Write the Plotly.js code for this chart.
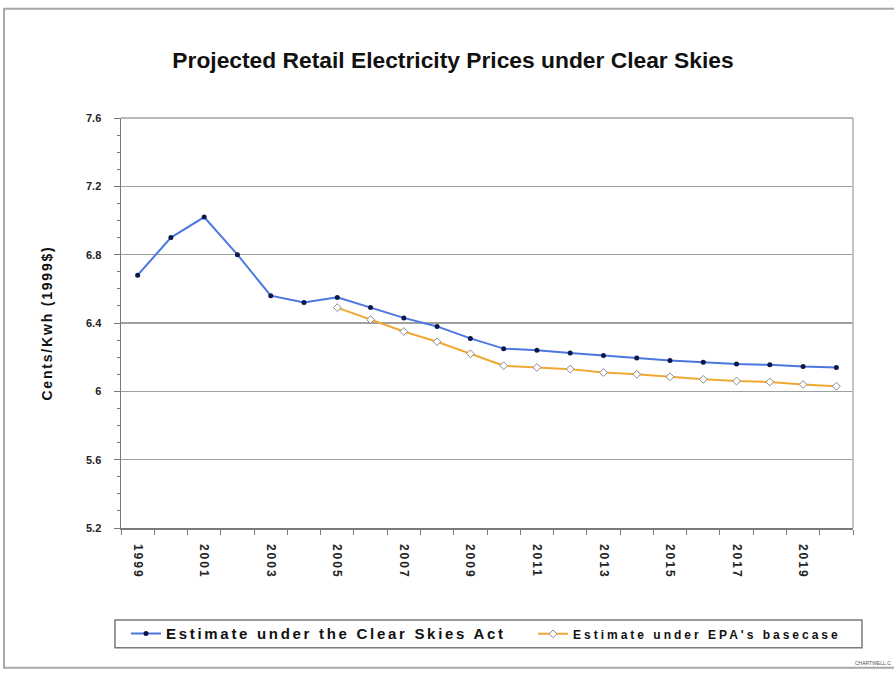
<!DOCTYPE html>
<html>
<head>
<meta charset="utf-8">
<script src="https://cdn.plot.ly/plotly-3.0.1.min.js"></script>
<style>
  html, body { margin: 0; padding: 0; background: #ffffff; }
  #chart { width: 894px; height: 675px; }
</style>
</head>
<body>
<div id="chart"></div>
<script>
// ---- data ----
var years = [1999, 2000, 2001, 2002, 2003, 2004, 2005, 2006, 2007, 2008, 2009,
             2010, 2011, 2012, 2013, 2014, 2015, 2016, 2017, 2018, 2019, 2020];
var clearSkies = [6.68, 6.90, 7.02, 6.80, 6.56, 6.52, 6.55, 6.49, 6.43, 6.38, 6.31,
                  6.25, 6.24, 6.225, 6.21, 6.195, 6.18, 6.17, 6.16, 6.155, 6.145, 6.14];
var basecase = [null, null, null, null, null, null, 6.49, 6.42, 6.35, 6.29, 6.22,
                6.15, 6.14, 6.13, 6.11, 6.10, 6.085, 6.07, 6.06, 6.055, 6.04, 6.03];
var xTickLabels = ["1999", "2001", "2003", "2005", "2007", "2009", "2011", "2013", "2015", "2017", "2019"];
var xTickVals = [1999, 2001, 2003, 2005, 2007, 2009, 2011, 2013, 2015, 2017, 2019];
var seriesNames = ["Estimate under the Clear Skies Act", "Estimate under EPA's basecase"];
var chartTitle = "Projected Retail Electricity Prices under Clear Skies";
var yTitle = "Cents/Kwh (1999$)";

// ---- layout helpers (pixel -> paper) ----
var L = 121, R = 853, T = 117.5, B = 528;
var W = R - L, H = B - T;
function px(x) { return (x - L) / W; }
function py(y) { return (B - y) / H; }
function spaced(t, ls) { return '<span style="letter-spacing:' + ls + 'px">' + t + '</span>'; }

var FONT = 'Liberation Sans, Arial, sans-serif';

var traces = [
  {
    x: years, y: clearSkies, name: spaced(seriesNames[0], 2.7), type: 'scatter', mode: 'lines+markers',
    line: { color: '#4a78e0', width: 2 },
    marker: { symbol: 'circle', size: 5, color: '#0c1848' },
    legend: 'legend'
  },
  {
    x: years, y: basecase, name: spaced(seriesNames[1], 3), type: 'scatter', mode: 'lines+markers',
    connectgaps: false,
    line: { color: '#f0a832', width: 2 },
    marker: { symbol: 'diamond', size: 6, color: '#ffffff', line: { color: '#8a8a8a', width: 1 } },
    legend: 'legend2'
  }
];

var layout = {
  width: 894, height: 675,
  paper_bgcolor: '#ffffff', plot_bgcolor: '#ffffff',
  margin: { l: L, r: 894 - R, t: T, b: 675 - B },
  font: { family: FONT, color: '#222222' },
  title: {
    text: '<b>' + chartTitle + '</b>',
    font: { size: 22.8, color: '#111111', family: FONT },
    x: 453 / 894, xref: 'container', xanchor: 'center',
    y: 1 - 60 / 675, yref: 'container', yanchor: 'middle'
  },
  showlegend: true,
  legend: {
    orientation: 'h', x: px(126), y: py(634), xanchor: 'left', yanchor: 'middle',
    bgcolor: 'rgba(0,0,0,0)', borderwidth: 0,
    font: { size: 15, color: '#111111', family: FONT, weight: 'bold' }
  },
  legend2: {
    orientation: 'h', x: px(533), y: py(634), xanchor: 'left', yanchor: 'middle',
    bgcolor: 'rgba(0,0,0,0)', borderwidth: 0,
    font: { size: 12, color: '#111111', family: FONT, weight: 'bold' }
  },
  xaxis: {
    type: 'linear', range: [1998.5, 2020.5],
    tickmode: 'array', tickvals: xTickVals, ticktext: xTickLabels.map(function (t) { return spaced(t, 2); }),
    tickangle: 90, ticks: '', ticklabelstandoff: 12,
    tickfont: { size: 12, color: '#222222', family: FONT, weight: 'bold' },
    showgrid: false, zeroline: false,
    showline: true, linecolor: '#7a7a7a', linewidth: 1.5,
    minor: { tick0: 1998.5, dtick: 1, ticks: 'outside', ticklen: 5, tickcolor: '#7a7a7a', tickwidth: 1, showgrid: false }
  },
  yaxis: {
    range: [5.2, 7.6], tick0: 5.2, dtick: 0.4,
    ticks: 'outside', ticklen: 6, tickcolor: '#7a7a7a', tickwidth: 1,
    ticklabelstandoff: 10,
    tickfont: { size: 11, color: '#222222', family: FONT, weight: 'bold' },
    showgrid: true, gridcolor: '#a0a0a0', gridwidth: 1.5,
    zeroline: false, showline: true, linecolor: '#7a7a7a', linewidth: 1.5,
    minor: { dtick: 0.1, ticks: 'outside', ticklen: 3, tickcolor: '#7a7a7a', tickwidth: 1, showgrid: false },
    title: {
      text: spaced('<b>' + yTitle + '</b>', 1.8),
      font: { size: 14, color: '#111111', family: FONT },
      standoff: 30
    },
    automargin: false
  },
  shapes: [
    { type: 'rect', xref: 'paper', yref: 'paper', x0: px(4), x1: px(905), y0: py(668), y1: py(8),
      line: { color: '#a8a8a8', width: 2 }, fillcolor: 'rgba(0,0,0,0)', layer: 'below' },
    { type: 'line', xref: 'paper', yref: 'paper', x0: 1, x1: 1, y0: 0, y1: 1,
      line: { color: '#b0b0b0', width: 1.5 } },
    { type: 'line', xref: 'paper', yref: 'paper', x0: 0, x1: 1, y0: 1, y1: 1,
      line: { color: '#a0a0a0', width: 1.5 } },
    { type: 'rect', xref: 'paper', yref: 'paper', x0: px(115), x1: px(862), y0: py(648), y1: py(620),
      line: { color: '#7a7a7a', width: 1.5 }, fillcolor: 'rgba(0,0,0,0)' }
  ],
  annotations: [
    { text: 'CHARTWELL.C', xref: 'paper', yref: 'paper', x: px(893), y: py(663),
      xanchor: 'right', yanchor: 'middle', showarrow: false,
      font: { size: 5, color: '#555555' } }
  ]
};

Plotly.newPlot('chart', traces, layout, { displayModeBar: false, staticPlot: true });
</script>
</body>
</html>
